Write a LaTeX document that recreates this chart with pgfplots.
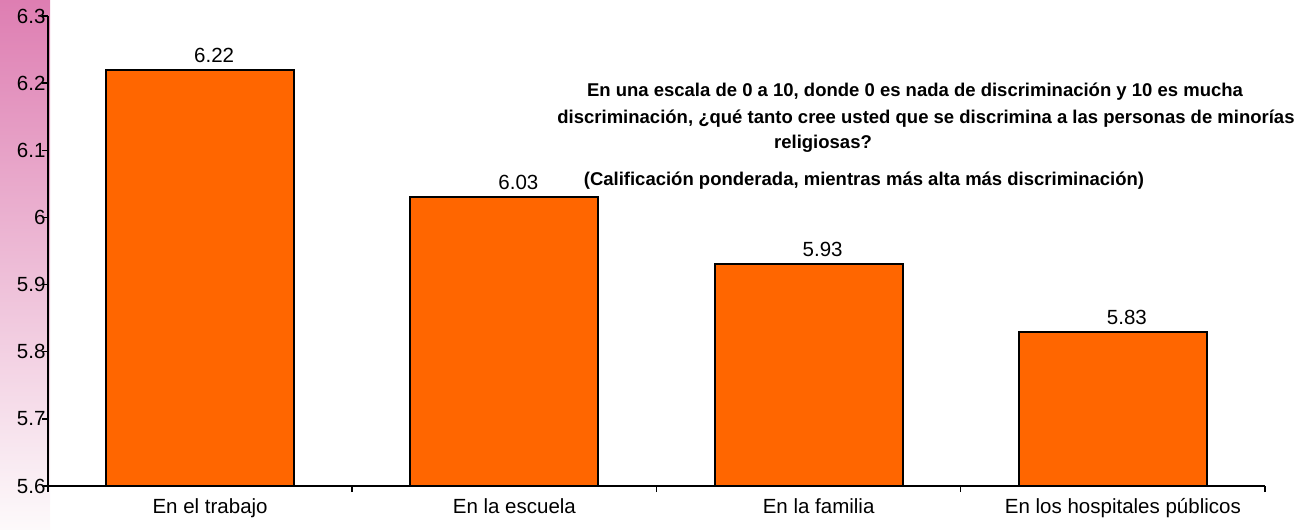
\documentclass[border=0pt]{standalone}
\usepackage{pgfplots}
\pgfplotsset{compat=1.18}
\usepackage{fontspec}
\setmainfont{Liberation Sans}
\definecolor{barorange}{HTML}{FF6600}
\definecolor{pinktop}{HTML}{DE7EB2}
\definecolor{pinkbot}{HTML}{FDFAFB}
\begin{document}
\begin{tikzpicture}[x=1pt,y=1pt]
\path[use as bounding box] (0,0) rectangle (1304,530);
\shade[top color=pinktop, bottom color=pinkbot] (0,0) rectangle (50,530);
\begin{axis}[
  at={(48pt,44pt)}, anchor=south west,
  scale only axis, width=1217pt, height=470pt,
  xmin=-0.5, xmax=3.5, ymin=5.6, ymax=6.3,
  axis x line*=bottom, axis y line*=left,
  axis line style={line width=2pt, -},
  ytick={5.6,5.7,5.8,5.9,6.0,6.1,6.2,6.3},
  yticklabel style={font=\fontsize{20.5}{22}\selectfont, xshift=7pt},
  /pgf/number format/assume math mode=true,
  xtick={0,1,2,3},
  xticklabels={En el trabajo, En la escuela, En la familia, En los hospitales públicos},
  xticklabel style={font=\fontsize{20.5}{22}\selectfont, yshift=-3pt, xshift=10pt},
  major x tick style={draw=none},
  minor xtick={-0.5,0.5,1.5,2.5,3.5},
  tick align=outside,
  tick style={black, line width=1.5pt},
  major tick length=6pt, minor tick length=6pt,
  ybar, bar width=188pt,
  nodes near coords,
  nodes near coords style={font=\fontsize{20.5}{22}\selectfont, yshift=3pt, xshift=14pt,
    /pgf/number format/fixed, /pgf/number format/precision=2, /pgf/number format/fixed zerofill},
  clip=false,
]
\addplot[fill=barorange, draw=black, line width=2pt] coordinates {(0,6.22) (1,6.03) (2,5.93) (3,5.83)};
\end{axis}
\begin{scope}[font=\fontsize{18.5}{20}\selectfont\bfseries]
\node at (915,438) {En una escala de 0 a 10, donde 0 es nada de discriminación y 10 es mucha};
\node at (926,411) {discriminación, ¿qué tanto cree usted que se discrimina a las personas de minorías};
\node at (823,386) {religiosas?};
\node at (864,349) {(Calificación ponderada, mientras más alta más discriminación)};
\end{scope}
\end{tikzpicture}
\end{document}
